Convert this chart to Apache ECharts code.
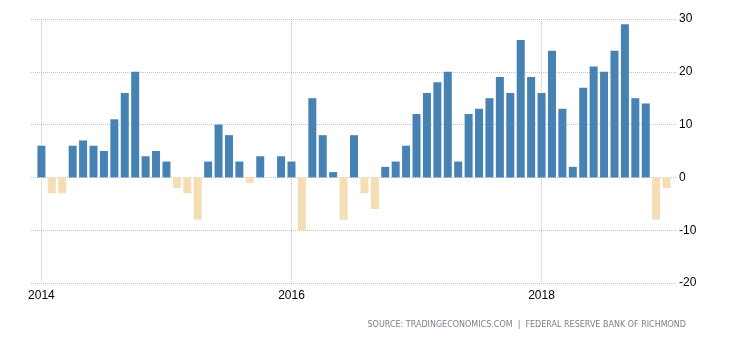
<!DOCTYPE html>
<html>
<head>
<meta charset="utf-8">
<style>
  html, body { margin: 0; padding: 0; background: #fff; }
  #chart { width: 730px; height: 340px; }
</style>
<script src="https://cdn.jsdelivr.net/npm/echarts@6/dist/echarts.min.js"></script>
</head>
<body>
<div id="chart"></div>
<script>
// Richmond Fed manufacturing index, monthly readings Jan 2014 – Jan 2019
const values2014 = [6, -3, -3, 6, 7, 6, 5, 11, 16, 20, 4, 5];
const values2015 = [3, -2, -3, -8, 3, 10, 8, 3, -1, 4, 0, 4];
const values2016 = [3, -10, 15, 8, 1, -8, 8, -3, -6, 2, 3, 6];
const values2017 = [12, 16, 18, 20, 3, 12, 13, 15, 19, 16, 26, 19];
const values2018 = [16, 24, 13, 2, 17, 21, 20, 24, 29, 15, 14, -8];
const values2019 = [-2];
const firstYear = 2014;
const yearTicks = ['2014', '2016', '2018'];
const sourceText = 'SOURCE: TRADINGECONOMICS.COM  |  FEDERAL RESERVE BANK OF RICHMOND';

const values = [].concat(values2014, values2015, values2016, values2017, values2018, values2019);

// month categories, with one empty slot on each side of the series
const months = values.map((_, i) => {
  const y = firstYear + Math.floor(i / 12);
  const m = (i % 12) + 1;
  return y + '-' + (m < 10 ? '0' + m : m);
});
const categories = ['start'].concat(months, ['end']);
const seriesData = [null].concat(values, [null]);

const isYearTick = (idx) => {
  const c = categories[idx];
  return !!c && c.endsWith('-01') && yearTicks.indexOf(c.slice(0, 4)) >= 0;
};

const gridLine = { color: '#c4c4c4', type: [1, 1], width: 1 };

const chart = echarts.init(document.getElementById('chart'), null, { renderer: 'canvas' });
chart.setOption({
  animation: false,
  backgroundColor: '#ffffff',
  grid: { left: 31, right: 53, top: 19, bottom: 57, containLabel: false },
  xAxis: {
    type: 'category',
    data: categories,
    boundaryGap: false,
    axisLine: { show: false },
    axisTick: { show: false },
    axisLabel: {
      interval: (idx) => isYearTick(idx),
      formatter: (v) => v.slice(0, 4),
      color: '#000000',
      fontFamily: 'Liberation Sans',
      fontSize: 12,
      margin: 7
    },
    splitLine: {
      show: true,
      interval: (idx) => isYearTick(idx),
      lineStyle: gridLine
    }
  },
  yAxis: {
    type: 'value',
    position: 'right',
    min: -20,
    max: 30,
    interval: 10,
    axisLine: { show: false },
    axisTick: { show: false },
    axisLabel: {
      color: '#000000',
      fontFamily: 'Liberation Sans',
      fontSize: 12,
      margin: 2,
      align: 'left'
    },
    splitLine: {
      show: true,
      lineStyle: gridLine
    }
  },
  series: [{
    type: 'bar',
    data: seriesData,
    barWidth: 8,
    itemStyle: {
      color: (p) => (p.value < 0 ? '#F5DEB3' : '#4682B4')
    }
  }],
  graphic: [{
    type: 'text',
    right: 44,
    top: 321,
    style: {
      text: sourceText,
      fill: '#7a7f8c',
      font: '8px "DejaVu Sans"'
    }
  }]
});
</script>
</body>
</html>
